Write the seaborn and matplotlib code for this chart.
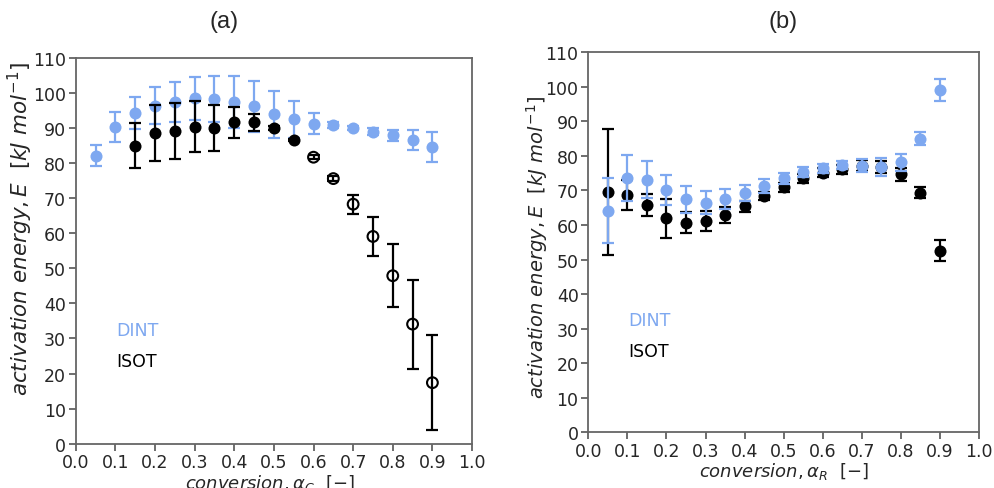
import numpy as np
import pandas as pd
import matplotlib
matplotlib.use("Agg")
import matplotlib.pyplot as plt
import seaborn as sns

# ---------------- data ----------------
# panel (a)
a_dint_x = [0.05, 0.10, 0.15, 0.20, 0.25, 0.30, 0.35, 0.40, 0.45, 0.50, 0.55, 0.60, 0.65, 0.70, 0.75, 0.80, 0.85, 0.90]
a_dint_y = [82.1, 90.3, 94.3, 96.4, 97.5, 98.5, 98.3, 97.5, 96.2, 93.9, 92.5, 91.2, 90.8, 90.0, 88.9, 88.0, 86.6, 84.7]
a_dint_e = [3.0, 4.2, 4.6, 5.2, 5.7, 6.2, 6.7, 7.4, 7.2, 6.7, 5.2, 3.0, 0.8, 0.6, 1.0, 1.6, 2.9, 4.3]

a_isot_x = [0.15, 0.20, 0.25, 0.30, 0.35, 0.40, 0.45, 0.50, 0.55, 0.60, 0.65, 0.70, 0.75, 0.80, 0.85, 0.90]
a_isot_y = [85.0, 88.5, 89.3, 90.4, 90.1, 91.6, 91.6, 90.0, 86.6, 81.7, 75.6, 68.3, 59.1, 47.9, 34.1, 17.4]
a_isot_e = [6.5, 8.0, 8.0, 7.2, 6.6, 4.4, 2.3, 0.5, 0.4, 0.5, 0.7, 2.7, 5.6, 9.0, 12.7, 13.6]
a_isot_filled = [True] * 9 + [False] * 7

# panel (b)
b_x = [0.05, 0.10, 0.15, 0.20, 0.25, 0.30, 0.35, 0.40, 0.45, 0.50, 0.55, 0.60, 0.65, 0.70, 0.75, 0.80, 0.85, 0.90]
b_dint_y = [64.2, 73.6, 73.1, 70.1, 67.4, 66.5, 67.6, 69.3, 71.4, 73.5, 75.3, 76.4, 77.4, 77.2, 76.8, 78.2, 85.0, 99.1]
b_dint_e = [9.3, 6.7, 5.3, 4.3, 3.8, 3.3, 2.9, 2.3, 2.0, 1.7, 1.5, 1.4, 1.2, 1.9, 2.5, 2.5, 1.8, 3.1]
b_isot_y = [69.6, 68.7, 65.9, 61.9, 60.7, 61.2, 63.0, 65.4, 68.4, 70.9, 73.5, 75.1, 76.2, 77.2, 76.8, 74.7, 69.4, 52.6]
b_isot_e = [18.3, 4.3, 3.2, 5.7, 3.0, 2.9, 2.3, 1.7, 1.2, 1.3, 1.3, 1.3, 1.3, 1.5, 1.7, 1.9, 1.7, 3.1]

series_labels = ["DINT", "ISOT"]
x_ticks = [0.0, 0.1, 0.2, 0.3, 0.4, 0.5, 0.6, 0.7, 0.8, 0.9, 1.0]
y_ticks = [0, 10, 20, 30, 40, 50, 60, 70, 80, 90, 100, 110]

BLUE = "#7ea8f0"
BLACK = "#000000"

sns.set_style("ticks")
plt.rcParams["font.family"] = ["DejaVu Sans"]
plt.rcParams["mathtext.fontset"] = "dejavusans"

fig = plt.figure(figsize=(9.95, 4.89), dpi=100)
axA = fig.add_axes([0.0761, 0.0906, 0.3983, 0.7888])
axB = fig.add_axes([0.5913, 0.1139, 0.3926, 0.7771])


def draw_err(ax, x, y, e, color, filled, z):
    ax.errorbar(x, y, yerr=e, fmt="none", ecolor=color, elinewidth=1.6,
                capsize=4, capthick=1.6, zorder=z)
    df = pd.DataFrame({"x": x, "y": y, "filled": filled})
    f = df[df["filled"]]
    o = df[~df["filled"]]
    if len(f):
        sns.scatterplot(data=f, x="x", y="y", ax=ax, color=color, s=75,
                        edgecolor=color, linewidth=0, zorder=z + 0.5, legend=False)
    if len(o):
        sns.scatterplot(data=o, x="x", y="y", ax=ax, facecolor="none", s=60,
                        edgecolor=color, linewidth=1.5, zorder=z + 0.5, legend=False)


draw_err(axA, a_dint_x, a_dint_y, a_dint_e, BLUE, [True] * len(a_dint_x), 2)
draw_err(axA, a_isot_x, a_isot_y, a_isot_e, BLACK, a_isot_filled, 3)

draw_err(axB, b_x, b_isot_y, b_isot_e, BLACK, [True] * len(b_x), 2)
draw_err(axB, b_x, b_dint_y, b_dint_e, BLUE, [True] * len(b_x), 3)

xlabels = [r"$\mathit{conversion,}\alpha_C$  $[-]$", r"$\mathit{conversion,}\alpha_R$  $[-]$"]
ylabel = r"$\mathit{activation\ energy,E}$  $[\mathit{kJ\ mol^{-1}}]$"
for ax, xl, xly, ylfs in zip([axA, axB], xlabels, [-0.073, -0.074], [15.5, 14.0]):
    ax.set_xlim(0, 1.0)
    ax.set_ylim(0, 110)
    ax.set_xticks(x_ticks)
    ax.set_xticklabels([f"{t:.1f}" for t in x_ticks])
    ax.set_yticks(y_ticks)
    ax.set_yticklabels([str(t) for t in y_ticks])
    ax.tick_params(axis="both", labelsize=12.5, length=5, width=1.2,
                   color="#555555", direction="out", pad=2)
    for sp in ax.spines.values():
        sp.set_visible(True)
        sp.set_color("#666666")
        sp.set_linewidth(1.3)
    ax.set_xlabel(xl, fontsize=13)
    ax.set_ylabel(ylabel, fontsize=ylfs)
    ax.xaxis.set_label_coords(0.49 if ax is axA else 0.5, xly)
    ax.text(0.103, 32.4, series_labels[0], color=BLUE, fontsize=12.5, va="center", ha="left")
    ax.text(0.103, 23.6, series_labels[1], color=BLACK, fontsize=12.5, va="center", ha="left")

axA.yaxis.set_label_coords(-0.103, 0.56)
axB.yaxis.set_label_coords(-0.098, 0.488)

fig.text(224 / 995, 1 - 22 / 489, "(a)", fontsize=17, ha="center", va="center",
         family=["Liberation Sans"])
fig.text(783 / 995, 1 - 22 / 489, "(b)", fontsize=17, ha="center", va="center",
         family=["Liberation Sans"])

fig.savefig("out.png", dpi=100)
